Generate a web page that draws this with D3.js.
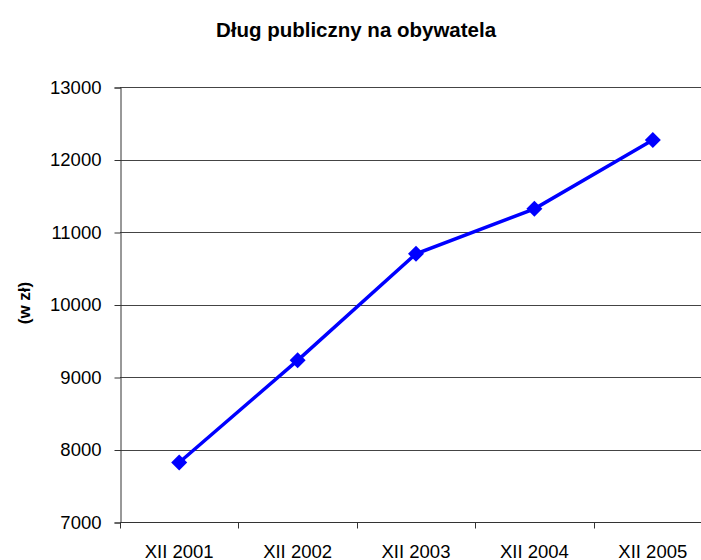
<!DOCTYPE html>
<html>
<head>
<meta charset="utf-8">
<script src="https://cdn.jsdelivr.net/npm/d3@7"></script>
<style>
  body { margin: 0; background: #fff; }
  svg { display: block; font-family: "Liberation Sans", Arial, sans-serif; }
</style>
</head>
<body>
<svg width="701" height="560"></svg>
<script>
var categories = ["XII 2001", "XII 2002", "XII 2003", "XII 2004", "XII 2005"];
var values = [7820, 9230, 10700, 11320, 12270];
var yTicks = [7000, 8000, 9000, 10000, 11000, 12000, 13000];
var title = "Dług publiczny na obywatela";
var yTitle = "(w zł)";

var svg = d3.select("svg");

// plot area runs a little past the right edge, like the original
var plotLeft = 120, plotRight = 712, plotTop = 87, plotBottom = 522;

var x = d3.scaleBand()
    .domain(categories)
    .range([plotLeft, plotRight]);

var y = d3.scaleLinear()
    .domain([7000, 13000])
    .range([plotBottom, plotTop]);

// gridlines
svg.append("g")
  .selectAll("line")
  .data(yTicks)
  .enter().append("line")
    .attr("x1", plotLeft)
    .attr("x2", plotRight)
    .attr("y1", function(d) { return Math.round(y(d)) + 0.5; })
    .attr("y2", function(d) { return Math.round(y(d)) + 0.5; })
    .attr("stroke", "#444")
    .attr("stroke-width", 1);

// y axis
var yAxis = svg.append("g")
    .attr("transform", "translate(" + (plotLeft + 0.5) + ",0.5)")
    .call(d3.axisLeft(y).tickValues(yTicks).tickSize(6).tickPadding(13).tickFormat(d3.format("d")));
yAxis.select(".domain").attr("stroke", "#333");
yAxis.selectAll(".tick line").attr("stroke", "#333");
yAxis.selectAll("text")
    .attr("font-size", "18.5px")
    .attr("fill", "#000")
    .attr("font-family", "Liberation Sans, Arial, sans-serif");

// x axis, ticks between categories
var xAxis = svg.append("g")
    .attr("transform", "translate(0," + (plotBottom + 0.5) + ")");
xAxis.append("line")
    .attr("x1", plotLeft)
    .attr("x2", plotRight)
    .attr("stroke", "#333");
xAxis.selectAll(".sep")
  .data(categories)
  .enter().append("line")
    .attr("class", "sep")
    .attr("x1", function(d) { return Math.round(x(d)) + 0.5; })
    .attr("x2", function(d) { return Math.round(x(d)) + 0.5; })
    .attr("y1", 0)
    .attr("y2", 6)
    .attr("stroke", "#333");
xAxis.selectAll("text")
  .data(categories)
  .enter().append("text")
    .attr("x", function(d) { return x(d) + x.bandwidth() / 2; })
    .attr("y", 35)
    .attr("text-anchor", "middle")
    .attr("font-size", "18.5px")
    .attr("fill", "#000")
    .text(function(d) { return d; });

// the series line
var pts = categories.map(function(c, i) { return [x(c) + x.bandwidth() / 2, y(values[i])]; });

svg.append("path")
    .datum(pts)
    .attr("fill", "none")
    .attr("stroke", "#0000ff")
    .attr("stroke-width", 3.5)
    .attr("d", d3.line());

svg.append("g")
  .selectAll("path")
  .data(pts)
  .enter().append("path")
    .attr("d", "M0,-8L8,0L0,8L-8,0Z")
    .attr("transform", function(d) { return "translate(" + d[0] + "," + d[1] + ")"; })
    .attr("fill", "#0000ff");

// titles
svg.append("text")
    .attr("x", 356)
    .attr("y", 37)
    .attr("text-anchor", "middle")
    .attr("font-size", "20.5px")
    .attr("font-weight", "bold")
    .text(title);

svg.append("text")
    .attr("transform", "translate(30,303) rotate(-90)")
    .attr("text-anchor", "middle")
    .attr("font-size", "17px")
    .attr("font-weight", "bold")
    .text(yTitle);
</script>
</body>
</html>
